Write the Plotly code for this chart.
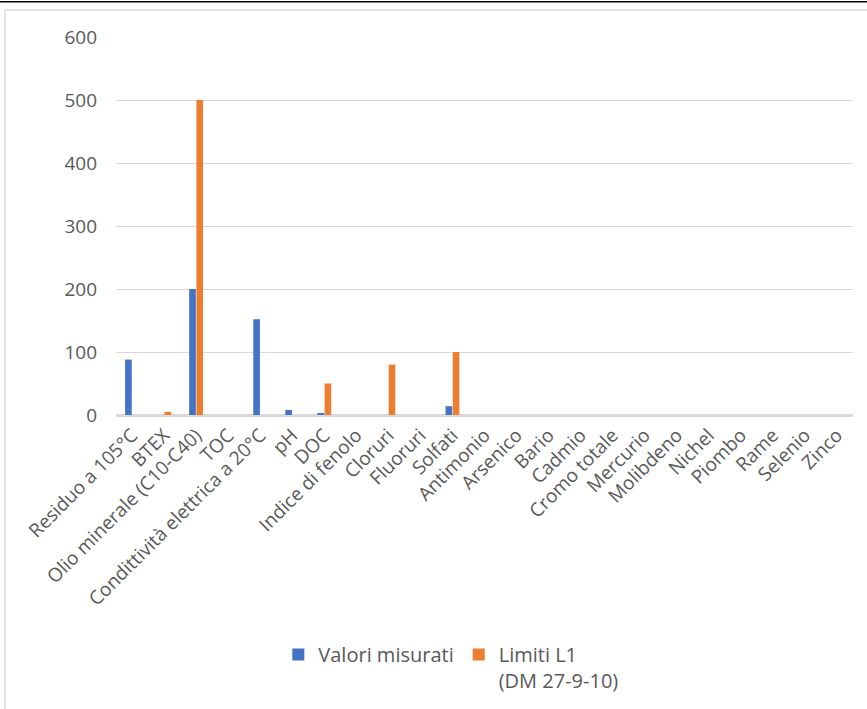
import plotly.graph_objects as go

categories = ["Residuo a 105°C", "BTEX", "Olio minerale (C10-C40)", "TOC",
              "Condittività elettrica a 20°C", "pH", "DOC", "Indice di fenolo",
              "Cloruri", "Fluoruri", "Solfati", "Antimonio", "Arsenico", "Bario",
              "Cadmio", "Cromo totale", "Mercurio", "Molibdeno", "Nichel",
              "Piombo", "Rame", "Selenio", "Zinco"]
valori_misurati = [88, 0, 200, 0, 152, 8, 3, 0, 0, 0, 14, 0, 0, 0, 0, 0, 0, 0, 0, 0, 0, 0, 0]
limiti_l1 = [0, 5, 500, 0, 0, 0, 50, 0, 80, 0, 100, 0, 0, 0, 0, 0, 0, 0, 0, 0, 0, 0, 0]
y_ticks = [0, 100, 200, 300, 400, 500, 600]

FONT = "Open Sans"
GREY = "#595959"
GRID = "#d9d9d9"

fig = go.Figure()
fig.add_trace(go.Bar(x=categories, y=valori_misurati, name="Valori misurati",
                     marker=dict(color="#4472C4", line=dict(width=0))))
fig.add_trace(go.Bar(x=categories, y=limiti_l1, name="Limiti L1<br>(DM 27-9-10)",
                     marker=dict(color="#ED7D31", line=dict(width=0))))

fig.update_layout(
    width=867, height=709,
    margin=dict(l=116, r=14, t=37, b=294, autoexpand=False),
    paper_bgcolor="white", plot_bgcolor="white",
    barmode="group", bargap=0.55, bargroupgap=0.08,
    font=dict(family=FONT, size=18, color=GREY),
    showlegend=True,
    legend=dict(orientation="h", x=0.455, xanchor="center", y=-0.582, yanchor="top",
                font=dict(family=FONT, size=20, color=GREY), valign="top",
                itemsizing="constant", itemwidth=30),
    xaxis=dict(tickangle=-45, showgrid=False, showline=True, linecolor=GRID,
               linewidth=1.5, ticks="", automargin=False,
               tickfont=dict(size=19, color=GREY)),
    yaxis=dict(range=[0, 600], tickvals=y_ticks, showgrid=True, gridcolor=GRID,
               gridwidth=1, zeroline=True, zerolinecolor=GRID, zerolinewidth=1.5,
               showline=False, ticks="", ticklabelstandoff=18, automargin=False,
               tickfont=dict(size=19, color=GREY)),
    shapes=[
        dict(type="line", xref="paper", yref="paper", x0=-0.16, x1=1.1,
             y0=1.093, y1=1.093, line=dict(color="black", width=1.5)),
        dict(type="line", xref="paper", yref="paper", x0=-0.1506, x1=1.1,
             y0=1.0714, y1=1.0714, line=dict(color=GRID, width=1.5)),
        dict(type="line", xref="paper", yref="paper", x0=-0.1506, x1=-0.1506,
             y0=1.0714, y1=-0.8, line=dict(color=GRID, width=1.5)),
    ],
)

fig.write_html("out.html", config={"displayModeBar": False},
               post_script="document.body.style.margin='0';document.body.style.overflow='hidden';")
